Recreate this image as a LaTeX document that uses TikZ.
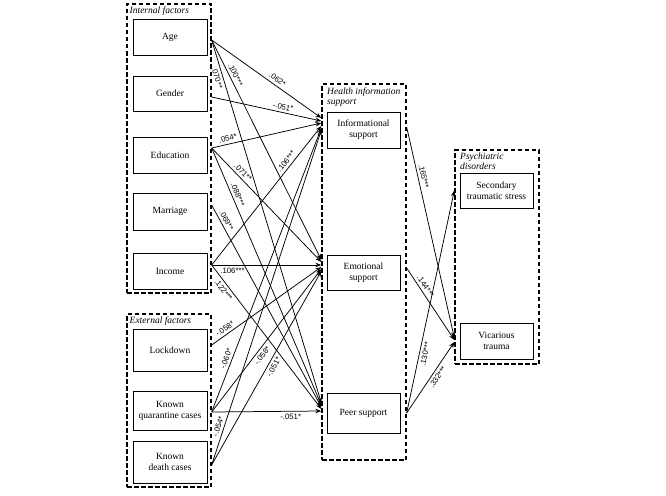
\documentclass[tikz,border=0pt]{standalone}
\usepackage{fontspec}
\setmainfont{Liberation Serif}
\setsansfont{Liberation Sans}
\usetikzlibrary{arrows.meta,calc}
\begin{document}
\begin{tikzpicture}[x=1pt,y=-1pt,
 box/.style={draw,line width=0.75pt,minimum width=74pt,align=center,inner sep=1pt,font=\fontsize{9.5}{11}\selectfont},
 grp/.style={draw,line width=1.3pt,dash pattern=on 4.5pt off 2.5pt,minimum width=84pt,inner sep=0pt},
 ttl/.style={anchor=north west,inner sep=0pt,align=left,font=\fontsize{9.5}{11}\selectfont\itshape},
 arr/.style={-{Stealth[length=6pt,width=4.4pt]},line width=0.75pt},
 lab/.style={sloped,inner sep=2.6pt,font=\sffamily\fontsize{7.8}{8}\selectfont}]
\useasboundingbox (0,0) rectangle (666,495);
% containers
\node[grp,minimum height=289pt] (int) at (169,148.5) {};
\node[grp,minimum height=173pt] (ext) at (169,400.5) {};
\node[grp,minimum height=376pt] (hlt) at (364,272) {};
\node[grp,minimum height=214pt] (psy) at (497,257) {};
\node[ttl] (intT) at (129.5,7) {Internal factors};
\node[ttl] (extT) at (129.5,317) {External factors};
\node[ttl] (hltT) at (327,88) {Health information\\[-1.5pt]support};
\node[ttl] (psyT) at (460,153) {Psychiatric\\[-1.5pt]disorders};
% internal
\node[box,minimum height=36pt] (age) at (170,37) {Age};
\node[box,minimum height=35pt] (gen) at (170,93.5) {Gender};
\node[box,minimum height=36pt] (edu) at (170,155) {Education};
\node[box,minimum height=37pt] (mar) at (170,211.5) {Marriage};
\node[box,minimum height=36pt] (inc) at (170,271) {Income};
% external
\node[box,minimum height=42pt] (loc) at (170,350) {Lockdown};
\node[box,minimum height=39pt] (qua) at (170,410.5) {Known\\quarantine cases};
\node[box,minimum height=42pt] (dea) at (170,462) {Known\\death cases};
% middle
\node[box,minimum width=73pt,minimum height=36pt] (info) at (363.5,130) {Informational\\support};
\node[box,minimum width=73pt,minimum height=35pt] (emo) at (363.5,272.5) {Emotional\\support};
\node[box,minimum width=73pt,minimum height=40pt] (peer) at (363.5,413) {Peer support};
% right
\node[box,minimum width=73pt,minimum height=35pt] (sec) at (496.5,190.5) {Secondary\\traumatic stress};
\node[box,minimum width=73pt,minimum height=36pt] (vic) at (496.5,341) {Vicarious\\trauma};
% source ports
\coordinate (sAge) at ($(age.east -| int.east)+(0,3)$);
\coordinate (sGen) at ($(gen.east -| int.east)+(0,3.5)$);
\coordinate (sEdu) at ($(edu.east -| int.east)+(0,-7)$);
\coordinate (sMar) at ($(mar.east -| int.east)+(0,-6.5)$);
\coordinate (sInc) at ($(inc.east -| int.east)+(0,-6)$);
\coordinate (sLoc) at ($(loc.east -| ext.east)+(0,-5)$);
\coordinate (sQua) at ($(qua.east -| ext.east)+(0,1.5)$);
\coordinate (sDea) at ($(dea.east -| ext.east)+(0,3)$);
% target ports (middle)
\coordinate (iA) at ($(info.west -| hlt.west)+(0,-12)$);
\coordinate (iG) at ($(info.west -| hlt.west)+(0,-9)$);
\coordinate (iE) at ($(info.west -| hlt.west)+(0,-7)$);
\coordinate (iI) at ($(info.west -| hlt.west)+(0,-4)$);
\coordinate (iQ) at ($(info.west -| hlt.west)+(0,-2)$);
\coordinate (iD) at ($(info.west -| hlt.west)+(0,0)$);
\coordinate (eA) at ($(emo.west -| hlt.west)+(0,-12.5)$);
\coordinate (eE) at ($(emo.west -| hlt.west)+(0,-10.5)$);
\coordinate (eI) at ($(emo.west -| hlt.west)+(0,-7.5)$);
\coordinate (eL) at ($(emo.west -| hlt.west)+(0,-5.5)$);
\coordinate (eQ) at ($(emo.west -| hlt.west)+(0,-3.5)$);
\coordinate (eD) at ($(emo.west -| hlt.west)+(0,-1.5)$);
\coordinate (pA) at ($(peer.west -| hlt.west)+(0,-10)$);
\coordinate (pE) at ($(peer.west -| hlt.west)+(0,-8)$);
\coordinate (pM) at ($(peer.west -| hlt.west)+(0,-6)$);
\coordinate (pI) at ($(peer.west -| hlt.west)+(0,-4)$);
\coordinate (pQ) at ($(peer.west -| hlt.west)+(0,-2)$);
% right ports
\coordinate (rI) at ($(info.east -| hlt.east)+(0,-3)$);
\coordinate (rE) at ($(emo.east -| hlt.east)+(0,-4.5)$);
\coordinate (rP) at ($(peer.east -| hlt.east)+(0,0)$);
\coordinate (tS) at ($(sec.west -| psy.west)+(0,0)$);
\coordinate (tV1) at ($(vic.west -| psy.west)+(0,-3)$);
\coordinate (tV2) at ($(vic.west -| psy.west)+(0,-1)$);
\coordinate (tV3) at ($(vic.west -| psy.west)+(0,1)$);
% left arrows
\draw[arr] (sAge) -- node[lab,above,pos=.57] {.062*} (iA);
\draw[arr] (sAge) -- node[lab,above,pos=.17] {.100***} (eA);
\draw[arr] (sAge) -- node[lab,below,pos=.10] {.070**} (pA);
\draw[arr] (sGen) -- node[lab,above,pos=.64] {-.051*} (iG);
\draw[arr] (sEdu) -- node[lab,above,pos=.16] {.054*} (iE);
\draw[arr] (sEdu) -- node[lab,above,pos=.25] {.071**} (eE);
\draw[arr] (sEdu) -- node[lab,above,pos=.19] {.088***} (pE);
\draw[arr] (sMar) -- node[lab,above,pos=.09] {.069**} (pM);
\draw[arr] (sInc) -- node[lab,above,pos=.72] {.106***} (iI);
\draw[arr] (sInc) -- node[lab,below,pos=.19] {.106***} (eI);
\draw[arr] (sInc) -- node[lab,below,pos=.15] {.122***} (pI);
\draw[arr] (sLoc) -- node[lab,above,pos=.15] {-.058*} (eL);
\draw[arr] (sQua) -- node[lab,above,pos=.18] {-.060*} (iQ);
\draw[arr] (sQua) -- node[lab,below,pos=.42] {-.058*} (eQ);
\draw[arr] (sQua) -- node[lab,below,pos=.72] {-.051*} (pQ);
\draw[arr] (sDea) -- node[lab,above,pos=.11] {-.054*} (iD);
\draw[arr] (sDea) -- node[lab,below,pos=.52] {-.051*} (eD);
% right arrows
\draw[arr] (rI) -- node[lab,above,pos=.24] {.165***} (tV1);
\draw[arr] (rE) -- node[lab,above,pos=.30] {.144***} (tV2);
\draw[arr] (rP) -- node[lab,below,pos=.27] {.130***} (tS);
\draw[arr] (rP) -- node[lab,below,pos=.55] {.332***} (tV3);
\end{tikzpicture}
\end{document}
